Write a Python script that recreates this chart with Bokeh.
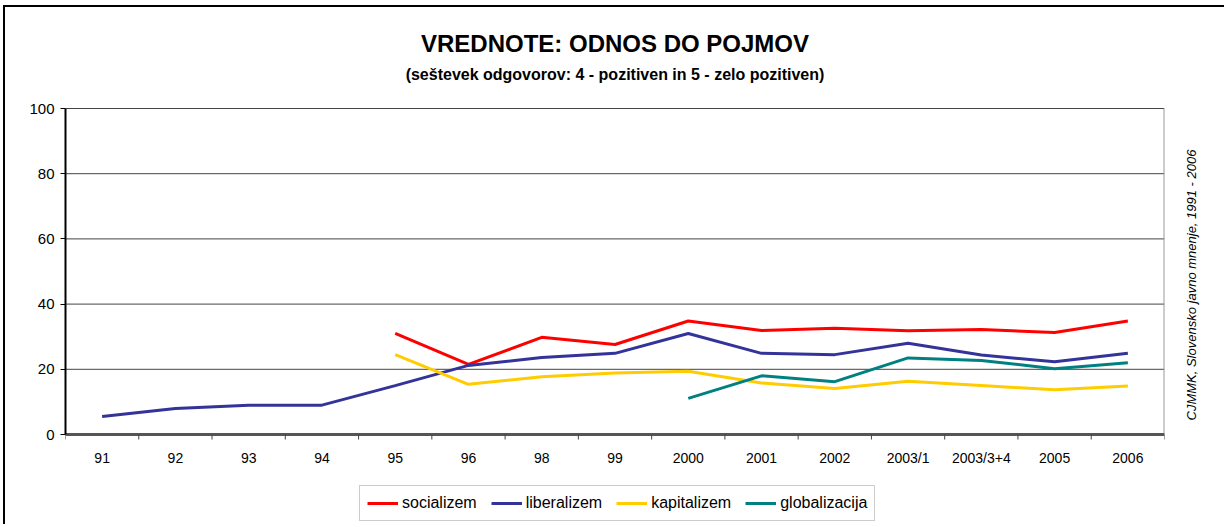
import numpy as np
from bokeh.plotting import figure
from bokeh.models import (Range1d, LinearAxis, FixedTicker, Legend, LegendItem,
                          ColumnDataSource)
from bokeh.core.properties import value
from bokeh.embed import file_html
from bokeh.resources import INLINE

nan = float("nan")

categories = ["91", "92", "93", "94", "95", "96", "98", "99", "2000", "2001",
              "2002", "2003/1", "2003/3+4", "2005", "2006"]
socializem = [nan, nan, nan, nan, 31.0, 21.5, 29.8, 27.6, 34.8, 31.9,
              32.6, 31.8, 32.2, 31.3, 34.8]
liberalizem = [5.5, 8.0, 9.0, 9.0, 15.0, 21.2, 23.6, 24.9, 31.0, 24.9,
               24.5, 28.0, 24.4, 22.3, 24.9]
kapitalizem = [nan, nan, nan, nan, 24.5, 15.4, 17.7, 18.9, 19.4, 15.8,
               14.1, 16.3, 15.0, 13.7, 14.9]
globalizacija = [nan, nan, nan, nan, nan, nan, nan, nan, 11.1, 18.0,
                 16.2, 23.5, 22.7, 20.2, 22.0]
y_ticks = [0, 20, 40, 60, 80, 100]

series_names = ["socializem", "liberalizem", "kapitalizem", "globalizacija"]
series_values = [socializem, liberalizem, kapitalizem, globalizacija]
series_colors = ["#FF0000", "#333399", "#FFCC00", "#008080"]

title_text = "VREDNOTE: ODNOS DO POJMOV"
subtitle_text = "(seštevek odgovorov: 4 - pozitiven in 5 - zelo pozitiven)"
source_text = "CJMMK, Slovensko javno mnenje, 1991 - 2006"

FONT = "Liberation Sans"
n = len(categories)
xpos = [i + 0.5 for i in range(n)]      # category slot centres
xbound = list(range(n + 1))             # category slot boundaries

PX_Y = 326.0 / 100.0
y_top = 100 + 101.0 / PX_Y              # room above for the titles
y_bot = -90.0 / PX_Y                    # room below for labels and legend

p = figure(x_range=Range1d(0, n), y_range=Range1d(y_bot, y_top),
           frame_width=1099, frame_height=517,
           min_border_left=60, min_border_top=0, min_border_right=60,
           min_border_bottom=0, title_location=None,
           x_axis_location=None, y_axis_location=None,
           output_backend="svg", toolbar_location=None,
           background_fill_color="white", border_fill_color="white")
p.styles = {"border-left": "2px solid black", "border-top": "2px solid black",
            "margin-left": "3px", "margin-top": "5px"}
p.outline_line_color = None
p.xgrid.visible = False
p.ygrid.visible = False

# left value axis (limited to 0..100)
yaxis = LinearAxis(ticker=FixedTicker(ticks=y_ticks), bounds=(0, 100))
yaxis.major_tick_out = 5
yaxis.major_tick_in = 0
yaxis.minor_tick_line_color = None
yaxis.axis_line_color = "black"
yaxis.axis_line_width = 2
yaxis.major_tick_line_color = "black"
yaxis.major_label_text_font = FONT
yaxis.major_label_text_font_size = "15px"
yaxis.major_label_text_color = "black"
yaxis.major_label_standoff = 6
p.add_layout(yaxis, "left")

# source note on the right, reading bottom to top, starting just above the x axis
note_start = 14.0 / PX_Y
raxis = LinearAxis(ticker=FixedTicker(ticks=[note_start]))
raxis.major_label_overrides = {note_start: source_text}
raxis.major_label_orientation = np.pi / 2
raxis.axis_line_color = None
raxis.major_tick_line_color = None
raxis.minor_tick_line_color = None
raxis.major_tick_out = 0
raxis.major_tick_in = 0
raxis.major_label_standoff = 27
raxis.major_label_text_font = FONT
raxis.major_label_text_font_size = "13px"
raxis.major_label_text_font_style = "italic"
raxis.major_label_text_color = "black"
p.add_layout(raxis, "right")

# horizontal grid lines across the category area
p.segment(x0=[0] * len(y_ticks), x1=[n] * len(y_ticks), y0=y_ticks, y1=y_ticks,
          line_color="#444444", line_width=1)
# right edge of the plot area
p.segment(x0=[n], x1=[n], y0=[0], y1=[100], line_color="#999999", line_width=2)

# category axis: line, ticks between categories, labels
p.segment(x0=[0], x1=[n], y0=[0], y1=[0], line_color="#555555", line_width=3)
p.segment(x0=xbound, x1=xbound, y0=[0] * len(xbound),
          y1=[-5.0 / PX_Y] * len(xbound), line_color="#444444", line_width=1)
cat_src = ColumnDataSource(dict(x=xpos, y=[0] * n, label=categories))
p.text(x="x", y="y", text="label", source=cat_src, y_offset=23,
       text_align="center", text_baseline="middle",
       text_font=value(FONT), text_font_size="14px", text_color="black")

items = []
for name, vals, col in zip(series_names, series_values, series_colors):
    r = p.line(x=xpos, y=vals, line_color=col, line_width=3)
    items.append(LegendItem(label=name, renderers=[r]))

# titles
p.text(x=[n / 2], y=[100 + 65.0 / PX_Y], text=[title_text],
       text_align="center", text_baseline="middle",
       text_font=value(FONT), text_font_size="24px", text_font_style="bold",
       text_color="black")
p.text(x=[n / 2], y=[100 + 34.0 / PX_Y], text=[subtitle_text],
       text_align="center", text_baseline="middle",
       text_font=value(FONT), text_font_size="16px", text_font_style="bold",
       text_color="black")

legend = Legend(items=items, orientation="horizontal", location=(294, 3))
legend.label_text_font = FONT
legend.label_text_font_size = "16px"
legend.label_text_color = "black"
legend.glyph_width = 31
legend.glyph_height = 20
legend.label_standoff = 4
legend.spacing = 14
legend.padding = 7
legend.margin = 0
legend.border_line_color = "#999999"
legend.border_line_width = 1
legend.background_fill_color = "white"
legend.background_fill_alpha = 1.0
p.add_layout(legend, "center")

open("out.html", "w").write(file_html(p, INLINE))
